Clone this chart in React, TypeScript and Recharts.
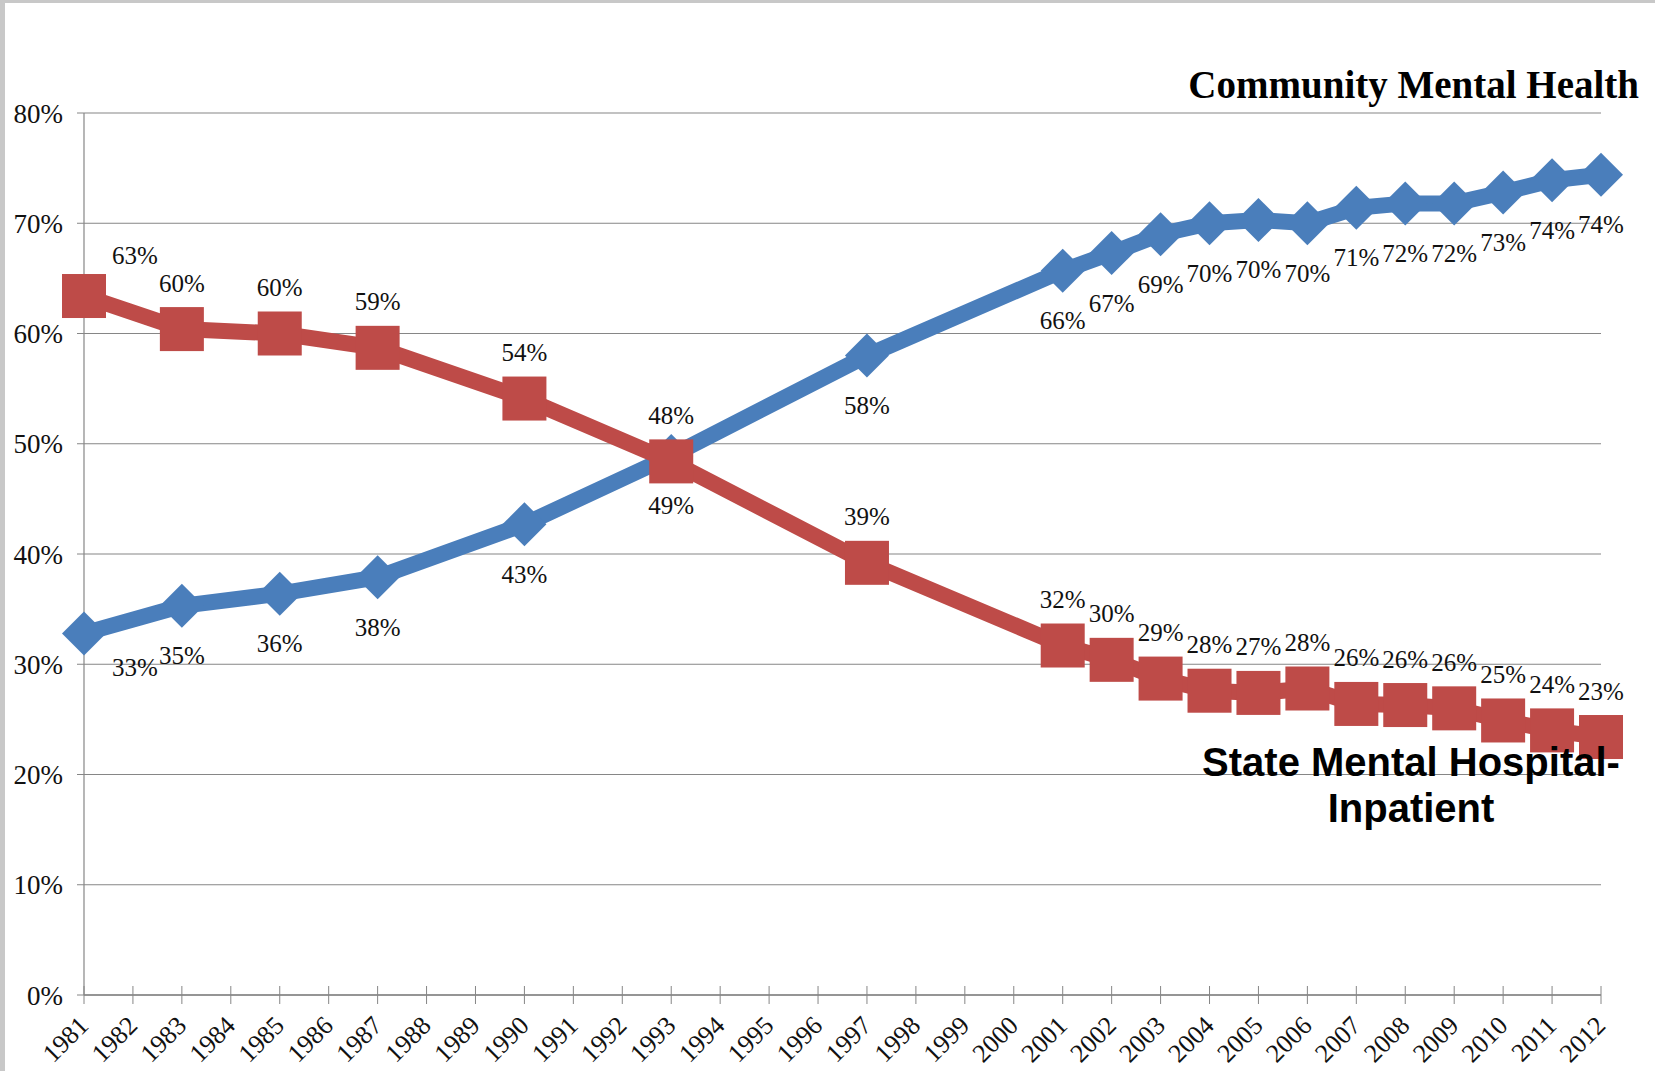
import { CartesianGrid, Line, LineChart, XAxis, YAxis } from "recharts";

const years = [
  "1981", "1982", "1983", "1984", "1985", "1986", "1987", "1988",
  "1989", "1990", "1991", "1992", "1993", "1994", "1995", "1996",
  "1997", "1998", "1999", "2000", "2001", "2002", "2003", "2004",
  "2005", "2006", "2007", "2008", "2009", "2010", "2011", "2012",
];

// share of state mental health agency spending, % (null = year not reported)
const community = [
  32.8, null, 35.3, null, 36.4, null, 37.9, null,
  null, 42.7, null, null, 48.9, null, null, null,
  58.0, null, null, null, 65.7, 67.3, 69.0, 70.0,
  70.3, 70.0, 71.4, 71.8, 71.8, 72.8, 73.9, 74.4,
];
const stateHospital = [
  63.4, null, 60.4, null, 60.0, null, 58.7, null,
  null, 54.1, null, null, 48.4, null, null, null,
  39.2, null, null, null, 31.7, 30.4, 28.7, 27.6,
  27.4, 27.8, 26.4, 26.3, 26.0, 24.9, 24.0, 23.4,
];
const yTicks = [0, 10, 20, 30, 40, 50, 60, 70, 80];

const BLUE = "#4a7ebb";
const RED = "#be4b48";
const GREY = "#868686";
const SERIF = "'Liberation Serif', 'Times New Roman', serif";

const data = years.map((year, i) => ({
  year,
  community: community[i],
  state: stateHospital[i],
}));

function YearTick({ x, y, payload }: any) {
  const tx = x + 6;
  const ty = y + 32;
  return (
    <g>
      <line x1={x} x2={x} y1={y - 9} y2={y + 9} stroke={GREY} strokeWidth={1} />
      <text
        x={tx}
        y={ty}
        textAnchor="end"
        transform={`rotate(-45, ${tx}, ${ty})`}
        fontFamily={SERIF}
        fontSize={26}
        fill="#111"
      >
        {payload.value}
      </text>
    </g>
  );
}

function Diamond({ cx, cy, index }: any) {
  if (cx == null || cy == null) return <g key={`bd${index}`} />;
  const r = 22;
  return (
    <path
      key={`bd${index}`}
      d={`M${cx},${cy - r} L${cx + r},${cy} L${cx},${cy + r} L${cx - r},${cy} Z`}
      fill={BLUE}
    />
  );
}

function Square({ cx, cy, index }: any) {
  if (cx == null || cy == null) return <g key={`rs${index}`} />;
  const h = 22;
  return <rect key={`rs${index}`} x={cx - h} y={cy - h} width={h * 2} height={h * 2} fill={RED} />;
}

function makeLabel(dy: number, firstDy: number) {
  return ({ x, y, value, index }: any) => {
    if (value == null || x == null) return <g key={`l${index}`} />;
    const first = index === 0;
    return (
      <text
        key={`l${index}`}
        x={x + (first ? 51 : 0)}
        y={y + (first ? firstDy : dy)}
        textAnchor="middle"
        dominantBaseline="central"
        fontFamily={SERIF}
        fontSize={25}
        fill="#111"
      >
        {Math.round(value)}%
      </text>
    );
  };
}

export default function App() {
  return (
    <div
      style={{
        position: "absolute",
        left: 0,
        top: 0,
        width: 1655,
        height: 1071,
        background: "#fff",
        overflow: "hidden",
        fontFamily: SERIF,
      }}
    >
      <LineChart
        width={1655}
        height={1071}
        data={data}
        margin={{ top: 113, right: 54, left: 0, bottom: 0 }}
      >
        <CartesianGrid horizontal vertical={false} stroke={GREY} strokeWidth={1.2} />
        <XAxis
          dataKey="year"
          interval={0}
          height={76}
          tickSize={0}
          tickMargin={0}
          tickLine={false}
          axisLine={{ stroke: GREY, strokeWidth: 1.5 }}
          tick={<YearTick />}
        />
        <YAxis
          width={84}
          domain={[0, 80]}
          ticks={yTicks}
          tickFormatter={(v: number) => `${v}%`}
          tickSize={7}
          tickMargin={14}
          axisLine={{ stroke: GREY, strokeWidth: 1.2 }}
          tickLine={{ stroke: GREY }}
          tick={{ fill: "#111", fontSize: 27, fontFamily: SERIF }}
        />
        <Line
          dataKey="community"
          stroke={BLUE}
          strokeWidth={16}
          connectNulls
          dot={(p: any) => <Diamond {...p} />}
          activeDot={false}
          label={makeLabel(50, 34)}
          isAnimationActive={false}
        />
        <Line
          dataKey="state"
          stroke={RED}
          strokeWidth={16}
          connectNulls
          dot={(p: any) => <Square {...p} />}
          activeDot={false}
          label={makeLabel(-46, -41)}
          isAnimationActive={false}
        />
      </LineChart>
      <svg
        width={1655}
        height={1071}
        style={{ position: "absolute", left: 0, top: 0, pointerEvents: "none" }}
      >
        <text x={1639} y={98} textAnchor="end" fontFamily={SERIF} fontWeight="bold" fontSize={39} fill="#000">
          Community Mental Health
        </text>
        <text
          x={1411}
          y={776}
          textAnchor="middle"
          fontFamily="'Liberation Sans', Arial, sans-serif"
          fontWeight="bold"
          fontSize={40}
          fill="#000"
        >
          State Mental Hospital-
        </text>
        <text
          x={1411}
          y={822}
          textAnchor="middle"
          fontFamily="'Liberation Sans', Arial, sans-serif"
          fontWeight="bold"
          fontSize={40}
          fill="#000"
        >
          Inpatient
        </text>
      </svg>
      <div style={{ position: "absolute", left: 0, top: 0, width: 1655, height: 3, background: "#c8c8c8" }} />
      <div style={{ position: "absolute", left: 0, top: 0, width: 5, height: 1071, background: "#c8c8c8" }} />
    </div>
  );
}
